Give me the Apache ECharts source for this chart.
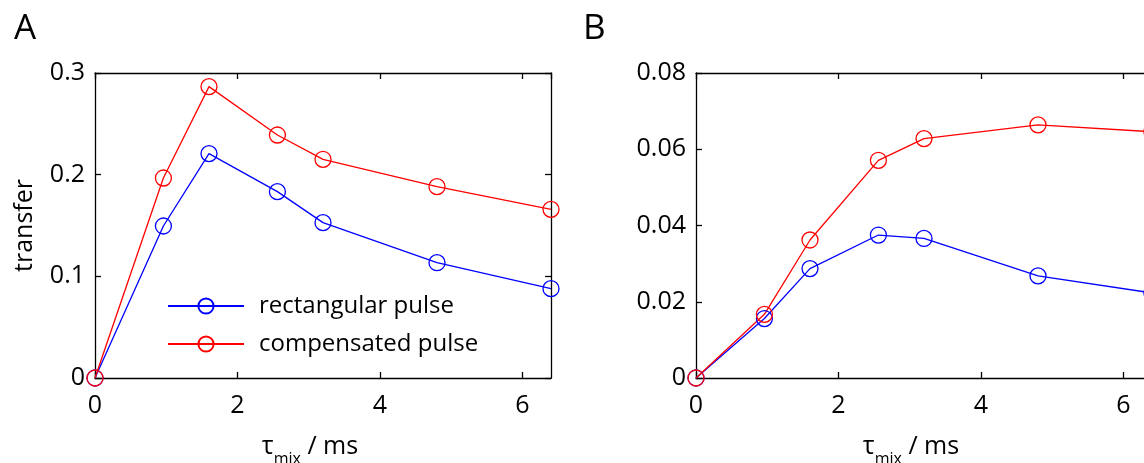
<!DOCTYPE html>
<html>
<head>
<meta charset="utf-8">
<script src="https://cdn.jsdelivr.net/npm/echarts@6/dist/echarts.min.js"></script>
<style>
html,body{margin:0;padding:0;background:#fff;}
#chart{width:1144px;height:463px;}
</style>
</head>
<body>
<div id="chart"></div>
<script>
// mixing times (ms)
const tauMix = [0, 0.96, 1.6, 2.56, 3.2, 4.8, 6.4];
// panel A
const rectA = [0, 0.1495, 0.2207, 0.1833, 0.1528, 0.1134, 0.0879];
const compA = [0, 0.1967, 0.2866, 0.2390, 0.2151, 0.1882, 0.1659];
// panel B
const rectB = [0, 0.0156, 0.0287, 0.0375, 0.0366, 0.0268, 0.0223];
const compB = [0, 0.0167, 0.0362, 0.0571, 0.0628, 0.0664, 0.0646];
const seriesNames = ['rectangular pulse', 'compensated pulse'];
const panelLetters = ['A', 'B'];

const FONT = 'Open Sans';
const pair = (xs, ys) => xs.map((x, i) => [x, ys[i]]);

const chart = echarts.init(document.getElementById('chart'), null, {renderer: 'canvas'});

const axisLine = {show: true, onZero: false, lineStyle: {color: '#000', width: 1.3}};
const tickIn = {show: true, inside: true, length: 6, lineStyle: {color: '#000', width: 1.3}};

function xAxes(gridIndex) {
  return [
    {
      type: 'value', gridIndex, position: 'bottom', min: 0, max: 6.4, interval: 2,
      axisLine, axisTick: tickIn, splitLine: {show: false},
      axisLabel: {showMaxLabel: false, color: '#000', fontFamily: FONT, fontSize: 25, margin: 15},
      name: '{t|τ}{s|mix}{t| / ms}', nameLocation: 'middle', nameGap: 51,
      nameTextStyle: {
        padding: [0, 26, 0, 0],
        rich: {
          t: {fontFamily: FONT, fontSize: 25, color: '#000', verticalAlign: 'bottom', lineHeight: 30},
          s: {fontFamily: FONT, fontSize: 16, color: '#000', verticalAlign: 'bottom', lineHeight: 22, padding: [0, 0, -8, 0]}
        }
      }
    },
    {
      type: 'value', gridIndex, position: 'top', min: 0, max: 6.4, interval: 2,
      axisLine, axisTick: tickIn, splitLine: {show: false}, axisLabel: {show: false}
    }
  ];
}

function yAxes(gridIndex, max, interval, withName) {
  const left = {
    type: 'value', gridIndex, position: 'left', min: 0, max, interval,
    axisLine, axisTick: tickIn, splitLine: {show: false},
    axisLabel: {color: '#000', fontFamily: FONT, fontSize: 25, margin: 10}
  };
  if (withName) {
    Object.assign(left, {
      name: 'transfer', nameLocation: 'middle', nameGap: 58, nameRotate: 90,
      nameTextStyle: {fontFamily: FONT, fontSize: 25, color: '#000'}
    });
  }
  return [left, {
    type: 'value', gridIndex, position: 'right', min: 0, max, interval,
    axisLine, axisTick: tickIn, splitLine: {show: false}, axisLabel: {show: false}
  }];
}

function lineSeries(name, color, xi, yi, data) {
  return {
    name, type: 'line', xAxisIndex: xi, yAxisIndex: yi, data,
    symbol: 'circle', symbolSize: 16, showSymbol: true, clip: false,
    lineStyle: {color, width: 1.3},
    itemStyle: {color: 'rgba(255,255,255,0)', borderColor: color, borderWidth: 1.3},
    emphasis: {disabled: true}, animation: false
  };
}

chart.setOption({
  backgroundColor: '#fff',
  animation: false,
  title: [
    {text: panelLetters[0], left: 9, top: 7, textStyle: {fontFamily: FONT, fontSize: 35, fontWeight: 'normal', color: '#000'}},
    {text: panelLetters[1], left: 578, top: 7, textStyle: {fontFamily: FONT, fontSize: 35, fontWeight: 'normal', color: '#000'}}
  ],
  grid: [
    {left: 95, top: 73, width: 456, height: 305, containLabel: false, outerBoundsMode: 'none'},
    {left: 696, top: 73, width: 456, height: 305, containLabel: false, outerBoundsMode: 'none'}
  ],
  xAxis: [...xAxes(0), ...xAxes(1)],
  yAxis: [...yAxes(0, 0.3, 0.1, true), ...yAxes(1, 0.08, 0.02, false)],
  legend: {
    data: seriesNames,
    orient: 'vertical', left: 167, top: 294, padding: 0,
    itemWidth: 76, itemHeight: 19, itemGap: 14,
    textStyle: {fontFamily: FONT, fontSize: 24, lineHeight: 24, color: '#000', padding: [0, 0, 0, 10]},
    selectedMode: false
  },
  series: [
    lineSeries(seriesNames[0], '#0000ff', 0, 0, pair(tauMix, rectA)),
    lineSeries(seriesNames[1], '#ff0000', 0, 0, pair(tauMix, compA)),
    lineSeries(seriesNames[0], '#0000ff', 2, 2, pair(tauMix, rectB)),
    lineSeries(seriesNames[1], '#ff0000', 2, 2, pair(tauMix, compB))
  ]
});
</script>
</body>
</html>
